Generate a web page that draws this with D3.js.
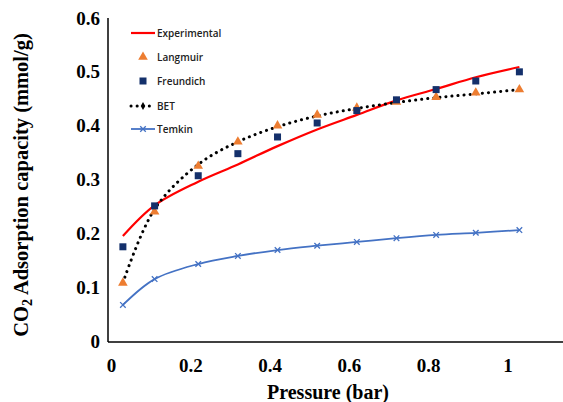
<!DOCTYPE html>
<html>
<head>
<meta charset="utf-8">
<script src="https://d3js.org/d3.v7.min.js"></script>
<style>
body {margin:0; background:#fff;}
svg text {font-family:'Liberation Serif', 'DejaVu Serif', serif;}
.tick text {font-weight:bold; font-size:19px;}
.legend text {font-family:'Open Sans', 'Liberation Sans', sans-serif; font-size:10px; font-weight:600; fill:#222;}
</style>
</head>
<body>
<div id="chart"></div>
<script>
// pressure (bar)
var pressure = [0.03, 0.11, 0.22, 0.32, 0.42, 0.52, 0.62, 0.72, 0.82, 0.92, 1.03];
// uptake (mmol/g)
var experimental = [0.195, 0.252, 0.296, 0.328, 0.362, 0.393, 0.42, 0.447, 0.468, 0.49, 0.509];
var langmuir = [0.108, 0.24, 0.325, 0.37, 0.40, 0.42, 0.433, 0.444, 0.453, 0.461, 0.467];
var freundich = [0.175, 0.251, 0.307, 0.348, 0.379, 0.405, 0.428, 0.448, 0.467, 0.483, 0.50];
var bet = [0.108, 0.245, 0.328, 0.37, 0.398, 0.418, 0.432, 0.443, 0.452, 0.459, 0.467];
var temkin = [0.067, 0.115, 0.143, 0.158, 0.169, 0.177, 0.184, 0.191, 0.197, 0.201, 0.206];
var xTicks = [0, 0.2, 0.4, 0.6, 0.8, 1];
var yTicks = [0, 0.1, 0.2, 0.3, 0.4, 0.5, 0.6];

var svg = d3.select("#chart").append("svg").attr("width", 563).attr("height", 402);

var x = d3.scaleLinear().domain([0, 1.14]).range([111, 563]);
var y = d3.scaleLinear().domain([0, 0.6]).range([341, 18]);

// axes
svg.append("g").attr("transform", "translate(0,342)")
  .call(d3.axisBottom(x).tickValues(xTicks).tickSize(0).tickPadding(17).tickFormat(function(d){return d3.format("")(d);}))
  .call(function(g){ g.select(".domain").attr("d", "M108,0H563").attr("stroke", "#000").attr("stroke-width", 1.5); });

svg.append("g").attr("transform", "translate(108,0)")
  .call(d3.axisLeft(y).tickValues(yTicks).tickSize(0).tickPadding(8).tickFormat(function(d){return d3.format("")(d);}))
  .call(function(g){ g.select(".domain").attr("d", "M0,18V342").attr("stroke", "#000").attr("stroke-width", 1.5); });

svg.selectAll(".tick text").attr("fill", "#000");

// titles
svg.append("text").attr("x", 328).attr("y", 399).attr("text-anchor", "middle")
  .style("font-weight", "bold").style("font-size", "20px").text("Pressure (bar)");

var yt = svg.append("text").attr("transform", "translate(28,185) rotate(-90)").attr("text-anchor", "middle")
  .style("font-weight", "bold").style("font-size", "20.5px");
yt.append("tspan").text("CO");
yt.append("tspan").attr("dy", 4).style("font-size", "14px").text("2");
yt.append("tspan").attr("dy", -4).text(" Adsorption capacity (mmol/g)");

function series(vals) { return pressure.map(function(p, i){ return [p, vals[i]]; }); }

var smooth = d3.line().x(function(d){return x(d[0]);}).y(function(d){return y(d[1]);}).curve(d3.curveCatmullRom);

// Temkin
svg.append("path").datum(series(temkin)).attr("d", smooth)
  .attr("fill", "none").attr("stroke", "#4472c4").attr("stroke-width", 1.8);
var star = d3.symbol().type(d3.symbolX).size(22);
svg.selectAll(".tk").data(series(temkin)).enter().append("path")
  .attr("transform", function(d){return "translate(" + x(d[0]) + "," + y(d[1]) + ")";})
  .attr("d", star).attr("stroke", "#4472c4").attr("stroke-width", 1.3).attr("fill", "none");

// Experimental
svg.append("path").datum(series(experimental)).attr("d", smooth)
  .attr("fill", "none").attr("stroke", "#ff0000").attr("stroke-width", 2.2);

// BET
svg.append("path").datum(series(bet)).attr("d", smooth)
  .attr("fill", "none").attr("stroke", "#000").attr("stroke-width", 3)
  .attr("stroke-dasharray", "0.1,6").attr("stroke-linecap", "round");

// Langmuir
var tri = d3.symbol().type(d3.symbolTriangle).size(40);
svg.selectAll(".lg").data(series(langmuir)).enter().append("path")
  .attr("transform", function(d){return "translate(" + x(d[0]) + "," + y(d[1]) + ")";})
  .attr("d", tri).attr("fill", "#ed7d31");

// Freundich
svg.selectAll(".fr").data(series(freundich)).enter().append("rect")
  .attr("x", function(d){return x(d[0]) - 3.5;}).attr("y", function(d){return y(d[1]) - 3.5;})
  .attr("width", 7).attr("height", 7).attr("fill", "#14306b");

// legend
var lg = svg.append("g").attr("class", "legend");
var names = ["Experimental", "Langmuir", "Freundich", "BET", "Temkin"];
var ly = [33, 57, 81, 106, 129];
names.forEach(function(n, i){
  lg.append("text").attr("x", 157).attr("y", ly[i] + 3.5).text(n);
});
lg.append("line").attr("x1", 131).attr("x2", 155).attr("y1", ly[0]).attr("y2", ly[0]).attr("stroke", "#ff0000").attr("stroke-width", 2.2);
lg.append("path").attr("transform", "translate(143," + ly[1] + ")").attr("d", tri).attr("fill", "#ed7d31");
lg.append("rect").attr("x", 139.5).attr("y", ly[2] - 3.5).attr("width", 7).attr("height", 7).attr("fill", "#14306b");
lg.append("line").attr("x1", 131).attr("x2", 155).attr("y1", ly[3]).attr("y2", ly[3]).attr("stroke", "#000").attr("stroke-width", 3)
  .attr("stroke-dasharray", "0.1,6").attr("stroke-linecap", "round");
lg.append("path").attr("transform", "translate(143," + ly[3] + ")").attr("d", d3.symbol().type(d3.symbolDiamond).size(18)).attr("fill", "#000");
lg.append("line").attr("x1", 131).attr("x2", 155).attr("y1", ly[4]).attr("y2", ly[4]).attr("stroke", "#4472c4").attr("stroke-width", 1.8);
lg.append("path").attr("transform", "translate(143," + ly[4] + ")").attr("d", star).attr("stroke", "#4472c4").attr("stroke-width", 1.3).attr("fill", "none");
</script>
</body>
</html>
